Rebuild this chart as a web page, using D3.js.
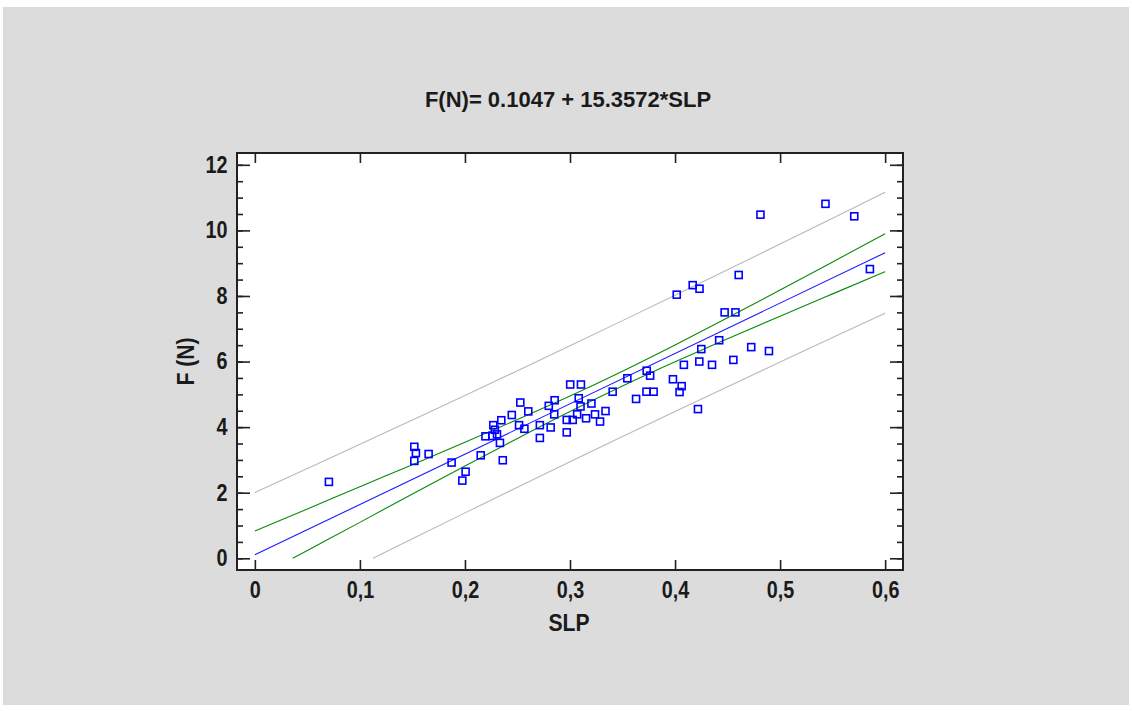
<!DOCTYPE html>
<html>
<head>
<meta charset="utf-8">
<script src="https://cdn.jsdelivr.net/npm/d3@7"></script>
<style>
  html, body { margin: 0; padding: 0; background: #fff; }
  svg { display: block; }
  text { font-family: "Liberation Sans", Arial, sans-serif; font-weight: bold; fill: #1a1a1a; }
</style>
</head>
<body>
<svg id="chart" width="1132" height="711"></svg>
<script>
// fitted model shown in the title
const intercept = 0.1047;
const slope = 15.3572;

// observations (SLP, F)
const slp = [0.0705, 0.1518, 0.1533, 0.1518, 0.1654, 0.1873, 0.1975, 0.2006, 0.2150, 0.2195,
  0.2270, 0.2285, 0.2260, 0.2305, 0.2333, 0.2360, 0.2346, 0.2446, 0.2527, 0.2603,
  0.2515, 0.2566, 0.2713, 0.2713, 0.2816, 0.2798, 0.2854, 0.2850, 0.2969, 0.3026,
  0.2969, 0.3002, 0.3104, 0.3083, 0.3100, 0.3068, 0.3153, 0.3204, 0.3238, 0.3286,
  0.3338, 0.3406, 0.3546, 0.3629, 0.3730, 0.3763, 0.3728, 0.3796, 0.3980, 0.4016,
  0.4063, 0.4043, 0.4084, 0.4168, 0.4233, 0.4231, 0.4218, 0.4250, 0.4352, 0.4420,
  0.4472, 0.4575, 0.4555, 0.4606, 0.4725, 0.4813, 0.4894, 0.5432, 0.5706, 0.5855];
const force = [2.33, 3.40, 3.21, 2.97, 3.18, 2.92, 2.37, 2.64, 3.14, 3.72,
  4.06, 3.92, 3.73, 3.78, 3.52, 2.99, 4.21, 4.37, 4.75, 4.48,
  4.06, 3.95, 4.06, 3.67, 3.99, 4.65, 4.82, 4.39, 4.22, 4.22,
  3.84, 5.30, 5.30, 4.88, 4.63, 4.39, 4.27, 4.72, 4.39, 4.17,
  4.49, 5.08, 5.49, 4.86, 5.72, 5.57, 5.08, 5.08, 5.46, 8.04,
  5.25, 5.07, 5.90, 8.33, 8.22, 6.00, 4.55, 6.38, 5.90, 6.65,
  7.50, 7.50, 6.05, 8.64, 6.44, 10.48, 6.32, 10.81, 10.43, 8.82];

// band positions
const bandX   = [0, 0.05, 0.1, 0.15, 0.2, 0.25, 0.3, 0.35, 0.4, 0.45, 0.5, 0.55, 0.6];
const confHi  = [0.835, 1.506, 2.185, 2.855, 3.538, 4.233, 4.949, 5.705, 6.504, 7.334, 8.181, 9.038, 9.899];
const confLo  = [null, 0.240, 1.095, 1.961, 2.814, 3.655, 4.475, 5.255, 5.992, 6.696, 7.385, 8.064, 8.739];
const predHi  = [2.005, 2.738, 3.477, 4.218, 4.967, 5.722, 6.482, 7.248, 8.021, 8.798, 9.582, 10.371, 11.166];
const predLo  = [null, null, null, 0.598, 1.385, 2.166, 2.942, 3.712, 4.475, 5.232, 5.984, 6.731, 7.472];
const confLoStart = 0.036;   // where the lower bands meet F = 0
const predLoStart = 0.1124;

const xTicks = [0, 0.1, 0.2, 0.3, 0.4, 0.5, 0.6];
const yTicks = [0, 2, 4, 6, 8, 10, 12];
const yMinor = d3.range(0, 12.01, 0.5);

const svg = d3.select("#chart");
const L = 237, R = 903, T = 153, B = 570;

svg.append("rect").attr("x", 3).attr("y", 7).attr("width", 1126).attr("height", 698).attr("fill", "#dcdcdc");

const x = d3.scaleLinear().domain([-0.017, 0.617]).range([L, R]);
const y = d3.scaleLinear().domain([-0.357, 12.36]).range([B, T]);

svg.append("rect").attr("x", L).attr("y", T).attr("width", R - L).attr("height", B - T).attr("fill", "#fff");

const fmt = d => d === 0 ? "0" : d3.format(".1f")(d).replace(".", ",");

// axes, ticks pointing inward
function styleAxis(g) {
  g.select(".domain").remove();
  g.selectAll(".tick line").attr("stroke", "#222").attr("stroke-width", 1.6);
  g.selectAll("text").attr("font-size", 23).attr("fill", "#1a1a1a").attr("font-family", null);
}
svg.append("g").attr("transform", `translate(0,${B})`)
  .call(d3.axisBottom(x).tickValues(xTicks).tickSize(-10).tickPadding(12).tickFormat(fmt)).call(styleAxis)
  .selectAll("text").attr("transform", "scale(0.86,1)");
svg.append("g").attr("transform", `translate(0,${T})`)
  .call(d3.axisTop(x).tickValues(xTicks).tickSize(-10).tickFormat("")).call(styleAxis);
svg.append("g").attr("transform", `translate(${L},0)`)
  .call(d3.axisLeft(y).tickValues(yMinor).tickSize(-6).tickFormat("")).call(styleAxis);
svg.append("g").attr("transform", `translate(${L},0)`)
  .call(d3.axisLeft(y).tickValues(yTicks).tickSize(-13).tickPadding(11).tickFormat(d3.format("d"))).call(styleAxis)
  .selectAll("text").attr("transform", "scale(0.86,1)");
svg.append("g").attr("transform", `translate(${R},0)`)
  .call(d3.axisRight(y).tickValues(yMinor).tickSize(-6).tickFormat("")).call(styleAxis);
svg.append("g").attr("transform", `translate(${R},0)`)
  .call(d3.axisRight(y).tickValues(yTicks).tickSize(-13).tickFormat("")).call(styleAxis);

// bands and fitted line
const line = d3.line().x(d => x(d[0])).y(d => y(d[1])).curve(d3.curveMonotoneX);
const pairs = (arr, start) => {
  const pts = bandX.map((v, i) => [v, arr[i]]).filter(p => p[1] !== null);
  if (start !== undefined) pts.unshift([start, 0]);
  return pts;
};
const plot = svg.append("g");
plot.append("path").attr("d", line(pairs(predHi))).attr("fill", "none").attr("stroke", "#b9b9b9").attr("stroke-width", 1.1);
plot.append("path").attr("d", line(pairs(predLo, predLoStart))).attr("fill", "none").attr("stroke", "#b9b9b9").attr("stroke-width", 1.1);
plot.append("path").attr("d", line(pairs(confHi))).attr("fill", "none").attr("stroke", "#0a8a0a").attr("stroke-width", 1.1);
plot.append("path").attr("d", line(pairs(confLo, confLoStart))).attr("fill", "none").attr("stroke", "#0a8a0a").attr("stroke-width", 1.1);
plot.append("path").attr("d", line([[0, intercept], [0.6, intercept + slope * 0.6]]))
  .attr("fill", "none").attr("stroke", "#1a1aff").attr("stroke-width", 1.1);

// points
plot.selectAll(".pt").data(slp.map((s, i) => [s, force[i]])).join("rect")
  .attr("class", "pt")
  .attr("x", d => x(d[0]) - 3.5).attr("y", d => y(d[1]) - 3.5)
  .attr("width", 7).attr("height", 7)
  .attr("fill", "none").attr("stroke", "#0000ff").attr("stroke-width", 1.6);

// frame
svg.append("rect").attr("x", L).attr("y", T).attr("width", R - L).attr("height", B - T)
  .attr("fill", "none").attr("stroke", "#222").attr("stroke-width", 2);

// titles
svg.append("text").attr("x", 568).attr("y", 107).attr("text-anchor", "middle").attr("font-size", 22)
  .text("F(N)= 0.1047 + 15.3572*SLP");
svg.append("text").attr("transform", "translate(569,631) scale(0.92,1)").attr("text-anchor", "middle").attr("font-size", 23)
  .text("SLP");
svg.append("text").attr("transform", `translate(194,${(T + B) / 2}) rotate(-90) scale(0.92,1)`)
  .attr("text-anchor", "middle").attr("font-size", 23).text("F (N)");
</script>
</body>
</html>
